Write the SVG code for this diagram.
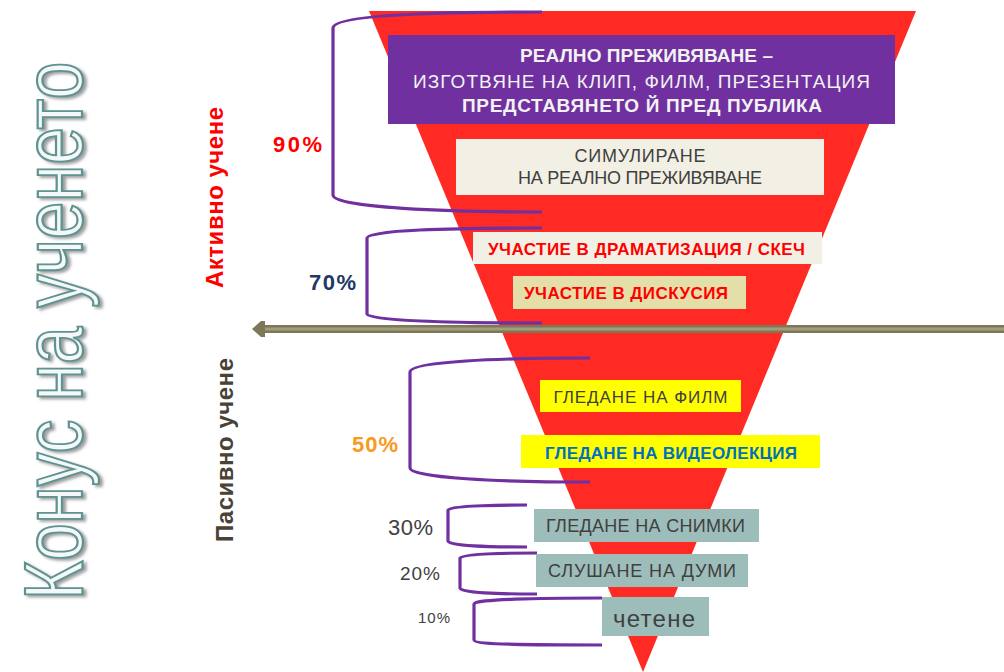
<svg xmlns="http://www.w3.org/2000/svg" width="1004" height="672" viewBox="0 0 1004 672">
<defs>
<style>
.t{font-family:"Liberation Sans","Noto Sans",sans-serif;text-anchor:middle}
.b{font-weight:bold}
.br{fill:none;stroke:#7030A0;stroke-width:3.2;stroke-linecap:butt}
.lbl{fill:#404040}
</style>
<filter id="sh" x="-20%" y="-5%" width="140%" height="110%">
<feDropShadow dx="3" dy="2" stdDeviation="1.5" flood-color="#777" flood-opacity="0.7"/>
</filter>
</defs>
<rect width="1004" height="672" fill="#fff"/>

<g id="title" filter="url(#sh)">
<text class="t" transform="translate(82,600) rotate(-90) scale(0.796,1)" style="text-anchor:start" font-size="84" textLength="676" lengthAdjust="spacingAndGlyphs" fill="#F4F8F8" stroke="#5E9391" stroke-width="2.2">Конус на ученето</text>
</g>

<g id="cone">
<polygon points="369,11 916,11 643,672" fill="#FF2A23"/>
</g>

<g id="side-labels">
<text class="t b" transform="translate(223,197.5) rotate(-90)" font-size="24" fill="#FF0000" textLength="181">Активно учене</text>
<text class="t b" transform="translate(233,450) rotate(-90)" font-size="24" fill="#4A4237" textLength="184">Пасивно учене</text>
</g>

<g id="connectors">
<path class="br" d="M542,12 C450,12 333,14 333,28 L333,195 C333,208 450,212 542,212"/>
<path class="br" d="M542,228 C450,228 367,230 367,238 L367,314 C367,321 450,323 542,323"/>
<path class="br" d="M590,358 C500,358 410,361 410,372 L410,468 C410,478 500,482 590,482"/>
<path class="br" d="M527,505 C490,505 448,506 448,510 L448,541 C448,546 490,547 527,547"/>
<path class="br" d="M537,553 C500,553 460,554 460,558 L460,588 C460,593 500,594 537,594"/>
<path class="br" d="M602,598 C540,598 474,599 474,604 L474,640 C474,645 540,645 602,645"/>
</g>

<g id="divider-arrow">
<rect x="262" y="325" width="742" height="8" fill="#7D7858"/>
<rect x="262" y="327.5" width="742" height="3" fill="#A29E7C"/>
<polygon points="252,329 261,321 265,321 265,337 261,337" fill="#7D7858"/>
</g>

<g id="node-real">
<rect x="388" y="35" width="507" height="89" fill="#7030A0"/>
<text class="t b" x="646.5" y="62" font-size="19" fill="#F2F2F2" textLength="253">РЕАЛНО ПРЕЖИВЯВАНЕ –</text>
<text class="t" x="641.5" y="88" font-size="19" fill="#F2F2F2" textLength="457">ИЗГОТВЯНЕ НА КЛИП, ФИЛМ, ПРЕЗЕНТАЦИЯ</text>
<text class="t b" x="642" y="112" font-size="19" fill="#F2F2F2" textLength="360">ПРЕДСТАВЯНЕТО Й ПРЕД ПУБЛИКА</text>
</g>

<g id="node-sim">
<rect x="456" y="139" width="368" height="56" fill="#F2F0E4"/>
<text class="t lbl" x="640" y="162" font-size="18" textLength="131">СИМУЛИРАНЕ</text>
<text class="t lbl" x="640" y="184" font-size="18" textLength="244">НА РЕАЛНО ПРЕЖИВЯВАНЕ</text>
</g>

<g id="node-drama">
<rect x="473" y="232" width="349" height="32" fill="#F2F0E4"/>
<text class="t b" x="646.5" y="255" font-size="17" fill="#FF0000" textLength="317">УЧАСТИЕ В ДРАМАТИЗАЦИЯ / СКЕЧ</text>
</g>

<g id="node-discuss">
<rect x="513" y="276" width="233" height="33" fill="#E4DFA8"/>
<text class="t b" x="626" y="299" font-size="17" fill="#FF0000" textLength="204">УЧАСТИЕ В ДИСКУСИЯ</text>
</g>

<g id="node-film">
<rect x="540" y="380" width="201" height="32" fill="#FFFF00"/>
<text class="t lbl" x="640.5" y="403" font-size="17" textLength="174">ГЛЕДАНЕ НА ФИЛМ</text>
</g>

<g id="node-video">
<rect x="521" y="435" width="299" height="33" fill="#FFFF00"/>
<text class="t b" x="671" y="459" font-size="17" fill="#0070C0" textLength="252">ГЛЕДАНЕ НА ВИДЕОЛЕКЦИЯ</text>
</g>

<g id="node-pics">
<rect x="534" y="509" width="225" height="33" fill="#9DBDBA"/>
<text class="t lbl" x="645.5" y="532" font-size="18" textLength="199">ГЛЕДАНЕ НА СНИМКИ</text>
</g>

<g id="node-listen">
<rect x="536" y="554" width="212" height="33" fill="#9DBDBA"/>
<text class="t lbl" x="642" y="577" font-size="18" textLength="188">СЛУШАНЕ НА ДУМИ</text>
</g>

<g id="node-read">
<rect x="602" y="597" width="107" height="39" fill="#9DBDBA"/>
<text class="t lbl" x="654" y="627" font-size="24" textLength="82">четене</text>
</g>

<g id="percentages">
<text class="t b" x="297.5" y="152" font-size="22" fill="#FF0000" textLength="49">90%</text>
<text class="t b" x="332.5" y="290" font-size="22" fill="#1F3864" textLength="47">70%</text>
<text class="t b" x="375" y="452" font-size="22" fill="#F79A1E" textLength="46">50%</text>
<text class="t" x="410.5" y="535" font-size="22" fill="#404040" textLength="45">30%</text>
<text class="t" x="420" y="580" font-size="19" fill="#404040" textLength="40">20%</text>
<text class="t" x="434" y="623" font-size="15" fill="#404040" textLength="32">10%</text>
</g>
</svg>
